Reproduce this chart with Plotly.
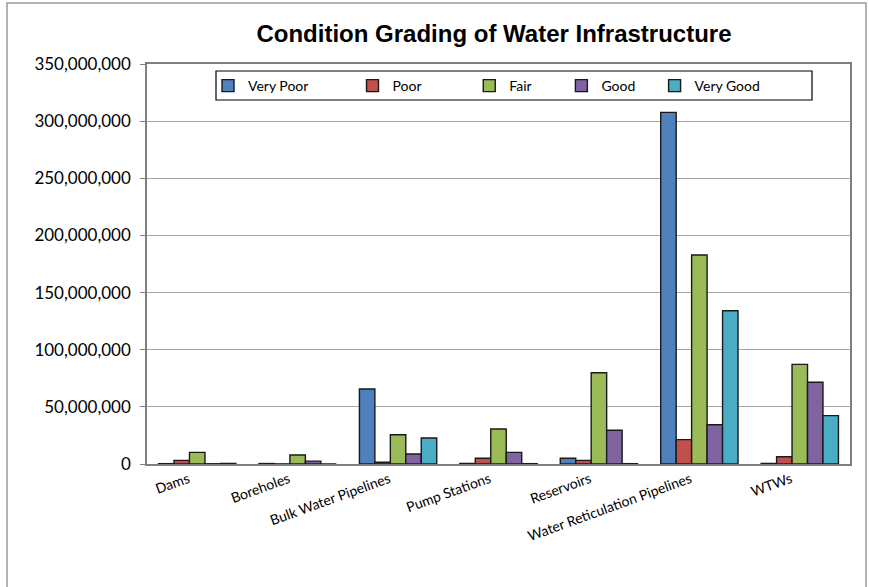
import plotly.graph_objects as go

categories = ["Dams", "Boreholes", "Bulk Water Pipelines", "Pump Stations",
              "Reservoirs", "Water Reticulation Pipelines", "WTWs"]
very_poor = [300000, 400000, 65600000, 500000, 5000000, 307700000, 500000]
poor = [3200000, 100000, 1500000, 5000000, 3200000, 21300000, 6400000]
fair = [10200000, 7900000, 25600000, 30600000, 79900000, 182900000, 87200000]
good = [200000, 2500000, 8800000, 10200000, 29500000, 34400000, 71500000]
very_good = [500000, 0, 22800000, 300000, 300000, 134100000, 42300000]

series_names = ["Very Poor", "Poor", "Fair", "Good", "Very Good"]
series_values = [very_poor, poor, fair, good, very_good]
series_colors = ["#4F81BD", "#C0504D", "#9BBB59", "#8064A2", "#4BACC6"]
y_ticks = [0, 50000000, 100000000, 150000000, 200000000, 250000000, 300000000, 350000000]
y_tick_labels = ["0", "50,000,000", "100,000,000", "150,000,000", "200,000,000",
                 "250,000,000", "300,000,000", "350,000,000"]

# trailing non-breaking spaces used only to spread legend entries like the original
legend_pad = [11, 12, 7, 4, 0]

W, H = 869, 587
L, R, T, B = 147, 19, 64, 123
pw, ph = W - L - R, H - T - B

fig = go.Figure()
for name, vals, col, pad in zip(series_names, series_values, series_colors, legend_pad):
    fig.add_trace(go.Bar(
        x=categories, y=vals, name=name + "\u00a0" * pad,
        hovertemplate="%{x}<br>" + name + ": %{y:,}<extra></extra>",
        marker=dict(color=col, line=dict(color="#1a1a1a", width=1.4)),
    ))

font_main = "Lato, 'Open Sans', sans-serif"

def px2paper_x(px):
    return (px - L) / pw

def px2paper_y(py):
    return (H - B - py) / ph

fig.update_layout(
    width=W, height=H,
    margin=dict(l=L, r=R, t=T, b=B, autoexpand=False),
    paper_bgcolor="white", plot_bgcolor="white",
    barmode="group", bargap=0.23, bargroupgap=0,
    title=dict(text="<b>Condition Grading of Water Infrastructure</b>",
               x=494 / W, xanchor="center", y=1 - 34 / H, yanchor="middle",
               font=dict(family="Liberation Sans, Arial, sans-serif", size=24, color="black")),
    font=dict(family=font_main, size=15, color="black"),
    showlegend=True,
    legend=dict(orientation="h", x=px2paper_x(208), xanchor="left",
                y=px2paper_y(86), yanchor="middle",
                bgcolor="rgba(0,0,0,0)", borderwidth=0,
                font=dict(family=font_main, size=14, color="black"),
                itemwidth=30, tracegroupgap=0),
    xaxis=dict(showgrid=False, showline=True, linecolor="#7f7f7f", linewidth=1.5,
               ticks="", tickangle=-20, tickfont=dict(family=font_main, size=14),
               ticklabelshift=-9, mirror=True),
    yaxis=dict(range=[0, 350000000], tickvals=y_ticks, ticktext=y_tick_labels,
               showgrid=True, gridcolor="#a6a6a6", gridwidth=1,
               showline=True, linecolor="#7f7f7f", linewidth=1.5, mirror=True,
               ticks="outside", ticklen=5, tickcolor="#7f7f7f",
               ticklabelstandoff=6,
               tickfont=dict(family=font_main, size=17), zeroline=False),
    shapes=[
        dict(type="rect", xref="paper", yref="paper",
             x0=px2paper_x(216), x1=px2paper_x(812),
             y0=px2paper_y(100), y1=px2paper_y(71),
             line=dict(color="black", width=1.2), fillcolor="rgba(0,0,0,0)", layer="above"),
        dict(type="rect", xref="paper", yref="paper",
             x0=px2paper_x(7), x1=px2paper_x(866),
             y0=px2paper_y(600), y1=px2paper_y(3),
             line=dict(color="#9a9a9a", width=1.5), fillcolor="rgba(0,0,0,0)", layer="below"),
    ],
)

fig.write_html("out.html", config={"displayModeBar": False},
               post_script="document.body.style.margin='0';")
